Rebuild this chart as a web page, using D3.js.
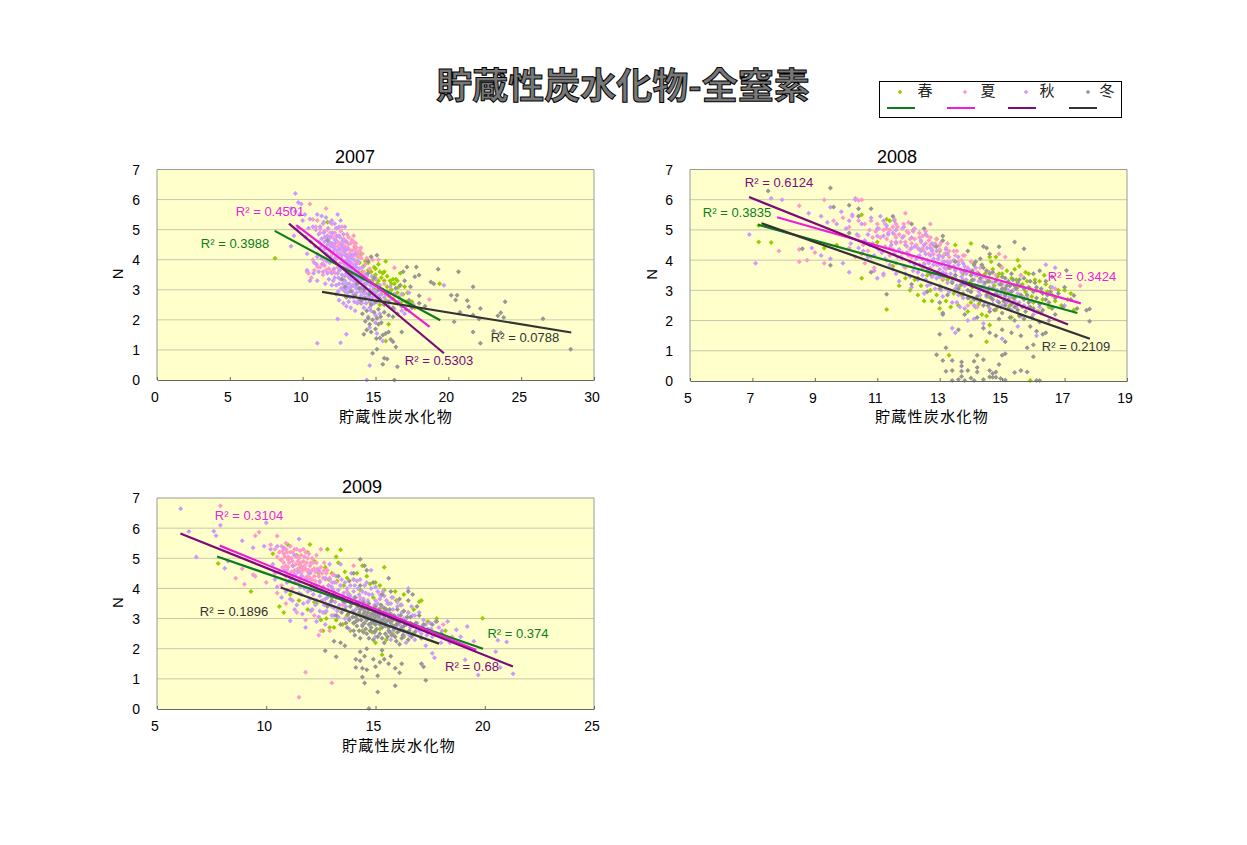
<!DOCTYPE html>
<html><head><meta charset="utf-8">
<script src="https://cdn.jsdelivr.net/npm/d3@7/dist/d3.min.js"></script>
<style>html,body{margin:0;padding:0;background:#fff}svg{display:block}text{font-family:"Liberation Sans",Arial,sans-serif}.cjk{font-family:"Noto Sans CJK JP",sans-serif}</style>
</head><body><div id="c"></div>
<script>
const seasons=["春","夏","秋","冬"];
const years=["2007","2008","2009"];
const xTitle="貯蔵性炭水化物", yTitle="N", mainTitle="貯蔵性炭水化物-全窒素";
const xDomains=[[0,30],[5,19],[5,25]];
const xTicks=[[0,5,10,15,20,25,30],[5,7,9,11,13,15,17,19],[5,10,15,20,25]];
const yTicks=[0,1,2,3,4,5,6,7];
const r2Labels=[["0.3988","0.4501","0.5303","0.0788"],["0.3835","0.3424","0.6124","0.2109"],["0.374","0.3104","0.68","0.1896"]];
const trend07=[[[8.08,4.96],[19.45,1.99]],[[9.56,5.15],[18.72,1.77]],[[9.06,5.2],[19.7,0.89]],[[11.33,2.93],[28.44,1.58]]];
const trend08=[[[7.18,5.17],[17.41,2.25]],[[7.79,5.42],[17.52,2.57]],[[6.89,6.09],[17.11,1.87]],[[7.29,5.22],[17.81,1.4]]];
const trend09=[[[7.75,5.06],[19.92,2.0]],[[7.87,5.42],[19.61,1.96]],[[6.07,5.82],[21.29,1.41]],[[10.66,4.03],[17.91,2.17]]];

const spring07=[[8.1,4.05],[11.7,5.25],[13.6,4.4],[13.8,4.1],[13.9,3.9],[14,4.2],[14.1,3.6],[14.2,3.8],[14.4,3.5],[14.5,3.9],[14.6,3.3],[14.7,3.6],[14.8,3.3],[14.9,3.75],[15,3.5],[15.1,3.2],[15.2,3.85],[15.3,3.6],[15.4,3.4],[15.5,3.0],[15.6,3.3],[15.7,3.95],[15.8,3.1],[15.9,2.8],[16,3.3],[16.1,3.0],[16.2,2.7],[16.3,3.2],[16.4,3.35],[16.5,2.9],[16.6,3.1],[16.7,3.55],[16.8,2.6],[17,3.1],[17.2,2.9],[17.3,2.5],[17.5,2.6],[17.7,2.4],[19.4,3.2],[14,2.55],[14.6,2.6],[15,2.9],[15.3,2.5],[15.9,1.85],[15.7,1.3],[12.9,2.95],[13.2,3.4],[14.3,3.2],[14.9,3.05],[15.2,3.3],[15.6,3.6],[15.7,2.65],[16,2.95],[16.1,3.2],[16.3,2.85],[16.4,2.6],[16.6,2.75],[16.2,3.35],[15.5,3.55],[15,3.7],[14.5,3.65],[14.3,3.95],[14.8,3.15],[15.4,2.85],[16.9,2.85],[17.1,2.6],[13.9,3.45],[14.2,2.9],[15.8,3.45],[16.5,3.3]];
const summer07=[[10.5,5.85],[11.6,5.7],[10.7,5.34],[11,5.3],[10.9,5.1],[11.4,5.2],[11.2,4.9],[11.5,4.95],[11.7,5],[12,5.2],[12.2,4.9],[11.8,4.7],[12.3,4.65],[12.5,4.8],[12.6,4.55],[12.1,4.5],[12.8,4.7],[12.9,4.45],[13,4.6],[13.1,4.4],[13.3,4.55],[12.7,4.3],[13.2,4.2],[13.5,4.6],[13.4,4.3],[13.6,4.15],[13.7,4.4],[13,4.1],[12.4,4.2],[12.2,4.35],[11.9,4.3],[11.6,4.4],[11.3,4.5],[11,4.2],[10.7,4],[10.8,3.65],[11.2,3.75],[11.5,3.8],[11.8,3.7],[12.1,3.65],[12.4,3.75],[12.6,3.9],[12.9,3.85],[13.2,3.9],[13.5,3.85],[13.8,3.9],[14.1,4.2],[14.4,4.05],[14.8,4],[15.2,4],[13.8,3.6],[14.2,3.6],[10.3,3.6],[10.4,3.55],[10.6,3.4],[11.4,3.5],[16.3,3.73],[18.7,2.68],[13.5,4.8],[12.7,5.1],[12.4,5.05],[13.15,4.75],[12.85,4.25],[12.55,4.4],[13.35,4.05],[13.65,4.55],[11.9,4.9],[12.15,4.7],[11.7,4.15],[11.45,4],[12,3.95],[12.3,4],[13.05,4.85],[13.75,4.2],[14,4.4],[14.6,3.7],[15,3.4],[13.55,4.35],[12.75,4.55],[14.3,3.85],[15.6,3.2],[16,2.9],
[11.2,5.02],[11.5,4.75],[11.82,4.55],[12.02,4.8],[12.17,4.45],[12.33,4.77],[12.45,4.57],[12.62,4.95],[12.66,4.42],[12.82,4.35],[12.92,4.62],[12.96,4.17],[13.06,4.35],[13.16,4.52],[13.22,4.06],[13.31,4.31],[13.36,4.66],[13.46,4.16],[13.56,4.46],[13.62,3.97],[13.71,4.26],[13.82,4.11],[13.91,4.31],[14.02,4.06],[12.52,3.66],[12.22,3.56],[11.92,3.61],[11.62,3.66],[11.32,3.86],[11.02,3.76],[12.75,3.75],[13.05,3.75],[13.35,3.75],[12.4,4.45],[12.05,4.2]];
const autumn07=[[9.5,6.2],[9.7,5.9],[9.9,5.85],[9.2,5.7],[9.5,5.6],[9.8,5.5],[10,5.3],[9.7,5.05],[9.4,4.8],[9.2,4.45],[10.2,4.75],[10.3,4.2],[10.7,5.1],[10.5,5.35],[11,5.5],[11.2,5.1],[11.6,5.4],[12,5.3],[12.4,5.5],[12.6,5.3],[12.9,5.1],[12.8,4.85],[12.3,5.05],[11.1,4.85],[11.3,4.7],[11.5,4.6],[11.7,4.5],[11.9,4.75],[12.2,4.55],[12.5,4.35],[12.7,4.15],[12.9,4.3],[13.1,4.1],[13.3,3.9],[13.5,4],[13.7,3.75],[13.1,3.75],[12.8,3.9],[12.5,3.85],[12.2,4.05],[11.9,4.1],[11.6,4.2],[11.2,4.4],[11,4.1],[10.8,3.9],[11.1,3.6],[11.4,3.85],[11.7,3.55],[10.3,3.65],[10.5,3.3],[11,3.3],[11.8,3.35],[12,3.15],[12.2,3.4],[12.4,3.55],[12.5,3.2],[12.7,3.5],[12.8,3],[12.9,3.3],[13,3.55],[13.1,2.9],[13.2,3.2],[13.3,3.55],[13.4,2.95],[13.5,3.3],[13.6,3.6],[13.7,2.9],[13.8,3.2],[13.9,3.5],[14,2.8],[14.1,3.1],[14.2,3.35],[14.3,2.9],[14.4,3.2],[14.5,2.75],[14.6,3],[14.7,3.25],[14.8,2.75],[14.9,2.55],[15,2.9],[15.1,2.6],[15.2,2.8],[15.3,3.15],[15.5,2.6],[15.7,2.85],[15.9,2.45],[16.1,2.7],[16.3,2.35],[16.6,2.6],[16.8,2.3],[17,2.2],[17.3,2.9],[17.6,2.5],[12.3,2.85],[12.5,2.65],[12.8,2.55],[13,2.45],[13.3,2.4],[13.6,2.3],[12.4,2.03],[14.2,2.4],[14.5,2.1],[14.7,2.3],[15,2.15],[15.3,2.2],[15,1.9],[14.6,1.75],[15.1,1.55],[15.5,1.3],[11,1.22],[12.6,1.24],[13,1.52],[14.6,0.48],[14.4,0],[19.7,3.15],[13.15,3.45],[13.45,3.75],[13.75,3.4],[13.05,4],[13.25,3.65],[12.65,4.5],[12.35,4.8],[12.05,4.9],[11.75,5.05],[11.45,5.25],[11.1,4.6],[10.85,4.45],[10.55,4.6],[13.6,3.1],[13.95,2.95],[14.25,2.75],[14.65,2.6],[14.95,3.15],[15.4,2.95],[13.35,3.1],[12.95,3.1],[12.55,3.65],[12.15,3.7],[12,3.55],[11.85,3.9],[12.35,4.3],[12.75,4.65],[11.3,4.05],[13.55,2.6],[14.05,2.55],[13.85,2.65],
[11.55,4.75],[11.8,4.35],[12,4.55],[12.1,4.25],[12.25,3.9],[12.4,4.1],[12.6,3.75],[12.65,4.05],[12.85,3.7],[12.9,3.45],[13,3.85],[13.05,3.2],[13.15,3.6],[13.2,3.95],[13.3,3.35],[13.4,3.6],[13.45,3.15],[13.55,3.45],[13.65,3.85],[13.7,3.05],[13.75,3.55],[13.85,3.35],[13.9,3.7],[14,3.05],[14.05,3.4],[14.15,2.9],[14.2,3.2],[14.3,3.5],[14.35,3.05],[14.5,3.3],[14.55,2.9],[14.65,3.15],[14.75,2.9],[14.85,3.1],[15.05,2.75],[15.15,3],[15.25,2.65],[15.35,2.85],[15.6,2.75],[15.8,2.6],[12.1,3.3],[12.3,3.15],[12.45,2.95],[12.6,3.35],[12.75,3.2],[12.9,2.8],[13,3.05],[13.25,2.75],[13.45,2.75],[13.15,2.6],[11.5,4.35],[11.65,3.95],[11.4,3.6],[11.55,3.2],[10.95,3.85],[10.75,3.55],[12.5,5.1],[12.2,5.2],[11.9,5.25],[11.3,5.45],[10.9,5],[10.4,5.05],[10.15,5.5],[13.35,4.15],[13.1,4.35],[13.6,4.2],[13.8,3.95],[14.1,3.75],[14.4,3.45],[14.75,3.45],[15,3.35],[12.25,4.65],[12.55,4.75],[11.95,4.45],[11.7,4.8],[12.8,4.4],[13,4.6],[16,3.1],[16.35,2.85],[16.8,2.85],[17.3,2.3],
[12.85,3.95],[13.25,3.8],[13.4,3.45],[13.6,3.3],[13.8,3.05],[14,3.3],[14.25,3.05],[14.45,2.85],[14.6,2.75],[14.8,2.95],[12.45,3.4],[12.65,3.05],[12.95,2.95],[13.15,3.05],[13.5,2.85],[13.75,2.55],[14.1,2.65],[14.35,2.55],[14.6,2.4],[13.4,4.05],[12.95,4.15],[12.55,4.2],[12.15,4.4],[11.8,4.6],[11.45,4.9]];
const winter07=[[17.16,3.76],[17.8,3.76],[17.99,3.49],[17.7,3.43],[19.3,3.68],[20.7,3.6],[18.8,3.26],[19,3.2],[21.7,3.1],[20.2,2.82],[20.6,2.82],[20.5,2.66],[21.3,2.64],[21.4,2.44],[22.2,2.38],[23.9,2.6],[23.6,2.24],[23.4,2.14],[23.8,2.08],[20.8,2.25],[20.4,1.94],[21.7,2.16],[22.1,2.03],[26.5,2.04],[21.7,1.6],[22.2,1.22],[23.1,1.63],[23.6,1.57],[28.4,1.02],[16.3,0],[16.5,0.44],[15.5,0.52],[15.6,0.72],[15.8,0.7],[14.8,0.89],[15.1,1.02],[16.4,1.1],[16.2,1.27],[16.05,1.35],[15.06,1.38],[15.3,1.4],[15.5,1.5],[15.7,1.55],[15.9,1.6],[14.2,1.52],[14.4,1.66],[14.7,1.6],[15,1.7],[14.6,1.85],[14.3,1.95],[15.2,1.85],[15.4,1.9],[14.5,2.05],[14.8,2.0],[15.1,2.05],[15.35,2.1],[14.1,2.2],[14.4,2.3],[14.7,2.5],[14.9,2.25],[15.2,2.35],[15.6,2.25],[15.9,2.15],[16.2,2.1],[16.5,2.2],[16.8,1.6],[14,2.65],[13.6,2.8],[13.3,2.95],[12.9,3.1],[12.7,3.35],[13,2.75],[14.3,2.7],[14.6,2.85],[15,2.6],[15.3,2.7],[15.6,2.5],[15.9,2.6],[16.2,2.4],[16.5,2.55],[16.8,2.45],[17.1,2.35],[17.5,2.4],[18,2.55],[18.4,2.45],[18,2.8],[17.3,2.65],[17,3.3],[16.7,3.15],[17.4,3.1],[16.4,3.05],[15.8,2.9],[15.2,3],[14.9,3.4],[14.5,3.55],[14.1,3.4],[13.7,3.2],[14.2,3],[13.9,3.05],[14.5,3.95],[15.1,4.15],[14.7,4.1],[11.7,4.65],[16.9,3.6],[13.3,3.5]];

const spring08=[[7.2,5.15],[7.2,4.6],[7.6,4.58],[9.3,4.4],[9.7,4.5],[11.3,2.37],[10.5,3.4],[11.3,5.35],[11.4,5.3],[10.5,5.5],[11,4.6],[11.5,3.8],[11.7,3.15],[11.9,3.4],[12.2,3.35],[12.3,2.85],[12.5,2.65],[12.7,3],[12.9,2.85],[13,2.4],[13.2,2.65],[13.3,3],[13.4,3.4],[13.5,3.7],[13.6,2.5],[13.7,2.85],[13.8,3.2],[13.9,2.3],[14,4.55],[14.1,3.9],[14.2,3.5],[14.3,2.7],[14.4,3],[14.5,2.15],[14.6,3.3],[14.7,3.7],[14.8,4.1],[14.9,3.55],[15,3.2],[15.1,2.6],[15.2,2.95],[15.3,3.4],[15.4,3.7],[15.5,3.1],[15.6,3.5],[15.7,2.75],[15.8,3.3],[15.9,3.05],[16,2.6],[16.1,3],[16.2,3.3],[16.3,2.7],[16.4,3.2],[16.5,2.45],[16.6,2.85],[16.8,3],[16.9,2.5],[17.1,2.7],[17.3,2.35],[14.6,1.85],[14.5,1.3],[13.3,0.85],[15.3,2.1],[15.9,0.02],[13,4.3],[12.9,4.7],[12.8,4.5],[13.2,4.2],[13.5,4.5],[14,3.3],[14.6,4.1],[15.5,4],[15,3.55],[14.8,2.35],[14.25,2.55],[15.25,2.5],[15.75,3.6],[16.15,2.3],[13.1,3.35],[12.6,3.5],
[13.05,3.1],[13.25,3.35],[13.45,2.9],[13.65,3.15],[13.75,3.55],[13.95,2.75],[14.05,3.1],[14.15,2.45],[14.3,3.3],[14.45,3.55],[14.55,2.8],[14.65,3.95],[14.75,3.15],[14.85,3.45],[14.95,3.8],[15.05,2.95],[15.15,3.65],[15.25,3.15],[15.35,2.75],[15.45,3.35],[15.55,3.8],[15.65,3.2],[15.75,2.95],[15.85,3.55],[15.95,2.8],[16.05,3.35],[16.25,2.95],[16.35,3.5],[16.45,2.95],[16.55,3.1],[16.7,2.65],[17,3],[17.2,2.9],[12.4,3.15],[12.05,3],[12.75,2.65],[13.35,2.45],[14,2.6],[14.35,2.2],[14.95,2.45]];
const summer08=[[8.5,5.8],[9.3,6],[10.3,6.05],[10.4,5.98],[10.5,6],[11.9,5.55],[12.7,5.2],[7.85,4.3],[8.5,3.95],[8.75,4],[9,4.25],[9.3,3.9],[8.5,4.35],[9.6,5.3],[9.9,5.4],[10.1,5.1],[10.2,5.45],[10.4,5.3],[10.6,5.2],[10.8,5.3],[11,5.2],[11.2,5],[11.3,4.7],[11.4,5],[11.5,5.1],[11.6,4.75],[11.7,4.85],[11.8,5.05],[11.9,4.6],[12,4.9],[12.1,4.55],[12.2,4.7],[12.3,4.4],[12.4,4.6],[12.5,4.3],[12.6,4.8],[12.7,4.5],[12.8,4.2],[12.9,4.7],[13,4.35],[13.1,3.95],[13.2,4.4],[13.3,4.1],[13.5,4.15],[13.7,4],[13.9,3.75],[14.2,3.6],[14.5,3.4],[14.8,3.5],[15,3.2],[15.1,4.1],[14.9,4.2],[14.4,3.1],[13.9,2.5],[14.2,2.45],[10.1,4.4],[10.3,4.1],[10.6,3.9],[10.7,4.3],[10.9,3.75],[11,4.45],[11.2,3.5],[11.4,4.15],[11.6,3.9],[11.8,4.25],[11.9,3.75],[12.1,4.1],[12.3,3.6],[12.5,3.9],[12.8,3.5],[13.1,3.4],[11.6,4.55],[12,5.25],[12.35,4.9],[12.65,4.2],[11.25,4.45],[11.55,5.35],[10.85,4.75],[15.6,3.5],[17.5,3.15],[16.7,3.05],[12.05,4.35],[11.95,4.95],[12.55,4.55],
[10.95,4.95],[11.1,4.75],[11.25,5.2],[11.35,4.9],[11.45,4.6],[11.55,4.85],[11.65,5.1],[11.75,4.6],[11.85,4.8],[11.95,4.45],[12.05,4.7],[12.15,4.95],[12.25,4.5],[12.35,4.75],[12.45,4.4],[12.55,4.95],[12.65,4.65],[12.75,4.35],[12.85,4.55],[12.95,4.15],[13.05,4.6],[13.15,4.2],[13.25,4.55],[13.35,3.95],[13.45,4.3],[13.6,3.95],[13.8,4.15],[10.4,4.8],[10.55,4.5],[10.75,5],[11.15,4.25],[11.5,4.35],[11.75,4.1],[12,4.15],[12.2,3.9],[12.45,3.75],[12.7,3.75],
[11.05,5.05],[11.3,5.05],[11.6,5.2],[11.85,5.2],[12.2,5.05],[12.45,4.8],[12.7,4.75],[13,4.5],[13.3,4.3],[13.55,4.3],[13.75,4.15],[14,3.95],[14.3,3.75],[14.6,3.6],[15,3.75],[13.2,3.7],[12.9,3.85],[10.8,4.1],[10.5,4.2]];
const autumn08=[[7.1,3.9],[6.9,4.85],[7.6,6.05],[7.95,6],[8.8,5.55],[9.2,5.45],[9.4,5.25],[9.5,5.75],[9.7,5.2],[9.85,5.6],[10,5.05],[10.1,5.3],[10.3,6],[10.2,5.5],[10.5,5.2],[10.7,4.85],[10.8,5.4],[11,5.05],[11.1,5.45],[11.2,4.8],[11.3,5.15],[11.5,4.9],[11.6,4.6],[11.7,4.35],[11.8,4.75],[11.9,4.5],[12,4.2],[12.1,4.75],[12.2,4.45],[12.3,4.1],[12.4,4.65],[12.5,3.85],[12.6,4.4],[12.7,4.15],[12.8,3.85],[12.9,4.3],[13,3.7],[13.1,4.1],[13.2,3.55],[13.3,3.9],[13.4,3.3],[13.5,3.65],[13.6,4.1],[13.7,3.45],[13.8,3.15],[13.9,3.7],[14,2.95],[14.1,3.35],[14.2,2.7],[14.3,3.05],[14.4,3.45],[14.5,2.8],[14.6,3.1],[14.7,2.55],[14.8,2.9],[14.9,3.2],[15,2.5],[15.1,2.8],[15.2,3],[15.3,2.35],[15.4,2.65],[15.5,2.9],[15.6,2.15],[15.7,2.5],[15.8,2.75],[16,2.2],[16.2,2.45],[16.4,3.85],[16.7,3.75],[16.6,3.1],[17,2.5],[8.9,4.4],[9.2,4.15],[9.5,4.05],[9.9,3.9],[10.1,3.6],[10.4,4.4],[10.7,4.1],[10.9,3.65],[11,3.4],[11.2,3.55],[11.3,4],[11.5,3.7],[11.7,3.3],[11.9,3.55],[12.1,3.1],[12.3,3.35],[12.5,2.9],[12.7,3.2],[12.9,3.4],[13.1,2.8],[13.2,3.05],[13.4,2.6],[13.6,2.85],[13.8,2.4],[13.4,1.75],[13.5,1.6],[13.9,2],[14.1,2.05],[14.4,1.9],[15,1.4],[15.5,1.8],[16.1,1.5],[11.4,4.4],[11.8,4.05],[12.2,3.85],[12.6,3.65],[13,3.45],[12.4,4.3],[12.75,4.55],[13.25,4.2],[12.05,3.95],[13.75,3.9],[14.15,3.75],[12.45,3.5],[12.85,3.05],[13.55,3.15],[11.55,4.2],[11.15,4.25],[10.75,4.5],[12.15,5],[11.85,5.1],[12.55,4.85],
[11.45,4.5],[11.65,4.1],[11.95,4.25],[12.1,4.4],[12.25,4.05],[12.35,4.35],[12.45,4.05],[12.55,4.2],[12.65,3.9],[12.75,4.3],[12.85,3.6],[12.95,4.05],[13.05,3.85],[13.15,3.75],[13.25,3.95],[13.35,3.55],[13.45,3.8],[13.5,3.4],[13.65,3.7],[13.75,3.35],[13.85,3.55],[13.95,3.2],[14.05,3.55],[14.2,3.15],[14.35,3.3],[14.45,3.05],[14.55,3.3],[14.65,2.85],[14.75,3.05],[14.85,2.65],[14.95,2.85],[15.05,3.05],[15.15,2.6],[15.25,2.8],[15.35,3],[15.45,2.45],[15.55,2.6],[15.65,2.8],[15.85,2.45],[15.95,2.65],[16.1,2.3],[11.05,4.35],[10.9,4.15],[10.6,4.65],[10.35,4.85],[10.15,4.55],[11.35,4.85],[11.6,5],[12.3,3.6],[12.55,3.35],[12.75,3.45],[13,3.15],[13.3,2.95],[13.55,2.6],[13.75,2.75],[14.05,2.75],[14.25,2.95],[14.45,2.6],
[12.35,4.15],[12.5,4.5],[12.6,4],[12.7,4.4],[12.8,4.05],[12.85,4.45],[12.95,3.85],[13,4.15],[13.1,3.6],[13.15,3.95],[13.2,4.35],[13.35,3.75],[13.45,4],[13.5,3.5],[13.6,3.85],[13.7,3.6],[13.8,3.8],[13.85,3.35],[14,3.65],[14,3.2],[14.15,3.5],[14.25,3.3],[14.3,2.85],[14.4,3.15],[14.55,2.95],[14.7,3.25],[14.85,3],[15,3],[10.55,4.3],[10.85,4.55],[11,4.8],[11.25,4.05],[11.4,3.85],[11.6,3.55],[11.85,3.8],[12.05,3.45],[12.15,3.65],[12.35,3.85],[12.6,3.15],[12.95,3.6],[13.25,3.25],[13.05,3],[13.5,3.05],[13.65,2.45],[14.1,2.5],[14.6,2.4],[11.2,5.3],[11.55,5.3]];
const winter08=[[9.5,6.39],[7.5,6.29],[9.6,5.76],[10.1,5.82],[10.8,5.7],[10.4,5.7],[8.6,4.38],[9.5,3.83],[11.3,2.87],[15.4,4.6],[15.7,4.38],[14.9,4.44],[17.06,3.66],[17.3,2.83],[17.8,2.38],[17.7,2.34],[17.8,1.98],[10.4,5.45],[10.1,4.9],[10.8,3.6],[11.5,5.45],[12.1,5.2],[12.5,5.05],[13.1,4.8],[13.1,4.65],[12.9,4.45],[14.4,4.45],[14.5,4.4],[14.3,4.05],[14.6,4.2],[14.1,3.85],[14.4,3.75],[14.7,3.6],[14.9,3.85],[15.1,3.4],[15.3,3.55],[15.5,3.25],[15.7,3.4],[16,3.55],[16.2,3.65],[16.4,3.3],[16.6,3.45],[16.8,2.9],[17,3.1],[17.2,2.7],[17.4,2.4],[13.5,3.5],[13.7,3.2],[13.9,3.0],[14.1,2.7],[14.3,3.1],[14.5,2.85],[14.7,3.05],[14.9,2.6],[15.1,2.85],[15.3,2.95],[15.5,2.55],[15.7,2.7],[15.9,2.45],[16.1,2.75],[16.3,2.35],[16.5,2.6],[16.7,2.2],[13.1,2.2],[13.1,2.25],[13,1.55],[13.2,1.1],[13.6,1.7],[13.8,2.2],[14,1.5],[14.2,2.1],[14.4,1.75],[14.6,2.3],[14.6,1.6],[14.8,1.5],[14.9,2.05],[15,1.7],[15.1,1.3],[15.3,1.6],[15.4,2.0],[15.6,1.5],[15.7,2.05],[15.9,1.8],[16,1.2],[16.1,1.65],[16.3,1.55],[16.4,1.6],[16.5,2.0],[15.8,1.1],[15.1,0.9],[15,0.85],[14.2,0.85],[14.4,0.7],[14.1,0.65],[16,0.8],[12.9,0.87],[13.1,0.68],[13.4,0.68],[13.7,0.63],[13.2,0.32],[13.4,0.35],[13.7,0.5],[13.7,0.32],[13.9,0.35],[14.2,0.3],[14.2,0.45],[14.6,0.35],[14.7,0.25],[14.9,0.55],[14.8,0.3],[15.4,0.28],[15.6,0.35],[15.8,0.3],[13.4,0.02],[13.6,0.05],[13.7,0.15],[13.8,0.02],[14,0.1],[14.1,0.02],[14.4,0.05],[14.6,0.13],[14.7,0.12],[14.8,0.12],[14.95,0.08],[15.1,0.03],[16.1,0.02],[16.2,0.02],[12.3,3.4],[12.1,3.2],[12.6,2.95],[13.3,3.75],[13.5,3.95],[13.9,4.3],[12.7,3.55],[13,3.05],[14.05,3.35],[14.55,3.3],[15.25,3.15],[15.85,3.1],[16.55,2.95],[16.95,2.45],[15.75,2.3],[15.2,2.4],
[14.25,3.55],[14.35,3.85],[14.45,3.25],[14.6,3.55],[14.65,2.75],[14.8,3.3],[14.85,2.85],[15,3.45],[15,3.05],[15.15,3.15],[15.2,2.7],[15.35,3.35],[15.4,2.75],[15.45,3.05],[15.6,2.85],[15.6,3.15],[15.8,2.85],[15.9,3.3],[16,2.95],[16.1,3.1],[16.2,2.55],[16.3,2.9],[16.4,2.7],[16.6,2.4],[16.7,2.75],[14.15,3.15],[14.2,2.8],[14,3.5],[13.8,3.65],[13.75,2.9],[13.6,3.05],[14.4,2.5],[14.75,2.35],[15,2.25],[15.25,2.1],[15.55,2.15],[15.95,2.1],[16.2,1.95],[14.7,2.7],[15.05,2.65],[15.3,2.55],[15.5,2.35],[15.85,2.6],
[14.05,3.65],[14.15,3.95],[14.3,3.4],[14.5,3.65],[14.55,3.05],[14.75,2.85],[14.95,3.2],[15.1,3.05],[15.2,3.3],[15.4,3.15],[15.55,3.35],[15.7,3.05],[16.05,3.25],[16.25,3.05],[16.45,2.85],[13.9,2.75],[14,2.95],[14.3,2.65],[14.55,2.5],[14.85,2.45],[15.1,2.5],[15.4,2.45],[15.65,2.45],[16,2.4],[16.25,2.25],[13.4,3.25],[13.25,2.85],[13,2.6]];

const spring09=[[7.8,4.83],[9.3,3.9],[10.6,3.4],[10.8,3.2],[13.4,5.28],[12,5.46],[11,5.44],[15.4,4.7],[15.3,1.8],[17,3.56],[17.1,3.6],[19.9,3.01],[12.8,5.3],[13.2,5.05],[13.3,4.85],[10.3,5.15],[11.6,4.7],[12.2,4.9],[12.4,4.5],[12.7,4.7],[13,4.5],[13.6,4.55],[14,4.3],[14.4,4.75],[14.6,4.4],[15,4.2],[15.4,3.95],[15.9,3.9],[16.3,3.8],[11.1,3.8],[11.5,3.6],[11.9,3.3],[12.3,3.5],[12.5,2.95],[12.7,3.2],[12.9,2.7],[13,3.7],[13.3,3.3],[13.5,2.8],[13.7,3.1],[14,2.85],[14.2,3.5],[14.4,2.6],[14.6,3.05],[14.9,3.7],[15,2.2],[15.2,2.65],[15.4,3.1],[15.6,3.5],[15.8,2.5],[16,2.9],[16.3,2.4],[16.5,3.2],[16.9,2.75],[17.4,2.9],[17.8,3],[18.2,2.6],[12.6,2.6],[13.1,2.7],[13.8,3.8],[14.7,3.3],[15.5,2.3],[16.7,2.5],[11.4,5.1],[11.9,5.2],[14.3,3.95],[13.55,4.1],[12.05,4.1],[15.25,3.35],[16.15,3.45],[14.85,2.55],
[12.85,4.3],[13.25,4.25],[13.7,4.35],[14.15,4.5],[14.75,4.15],[15.2,4.1],[12.2,3.55],[12.75,3],[13.2,2.95],[13.85,2.6],[15.95,3.6],[16.75,3.3]];
const summer09=[[7.9,6.74],[9.67,5.86],[9.5,5.75],[10.5,5.74],[10.9,5.5],[11.5,0.39],[11.8,1.22],[13,0.86],[8.6,4.34],[9,4.14],[8.9,4.65],[9.4,4.45],[9.5,4.4],[10,4.2],[10.2,5.45],[10.4,5.3],[10.5,5.05],[10.7,5.4],[10.8,5.15],[10.8,4.85],[10.9,5.3],[11,5.05],[11,4.7],[11.1,5.4],[11.2,4.9],[11.2,5.2],[11.3,4.6],[11.4,5.05],[11.4,5.3],[11.5,4.8],[11.6,5.1],[11.6,4.5],[11.7,4.9],[11.8,5.2],[11.8,4.65],[11.9,4.4],[11.9,5],[12,4.75],[12,4.5],[12.1,5],[12.1,4.3],[12.2,4.65],[12.3,4.85],[12.3,4.1],[12.4,4.4],[12.5,4.7],[12.5,5.3],[12.7,4.3],[12.8,4.6],[13,4.2],[13.1,4.45],[13.4,4.1],[13.7,3.9],[14,4.75],[14.3,3.7],[14.6,3.5],[15.2,3.8],[15.8,3.7],[10.5,3.85],[10.7,4.1],[10.9,3.5],[11.2,4],[11.4,3.2],[11.8,2.95],[12.2,3.1],[12.4,2.45],[12.5,2.6],[12.9,2.6],[12.7,3.5],[10.4,4.5],[10.9,4.4],[11.5,4.2],[14.5,3.2],[13.5,3.45],[11.65,4.7],[11.95,5.15],[12.25,4.55],[11.35,4.8],[11.05,4.45],[12.65,4.85],[18.1,2.8],[18.5,2.4],
[10.6,5.2],[10.65,4.95],[10.75,4.7],[10.85,5.05],[10.95,4.6],[11.05,4.85],[11.1,5.2],[11.15,4.55],[11.25,4.75],[11.3,5.1],[11.35,4.45],[11.45,4.65],[11.5,5],[11.55,4.35],[11.6,4.85],[11.7,4.6],[11.75,5.05],[11.8,4.35],[11.85,4.85],[11.95,4.6],[12.05,4.3],[12.1,4.6],[12.15,4.85],[12.25,4.25],[12.35,4.65],[12.45,4.2],[12.55,4.5],[12.6,4.05],[12.75,4.5],[12.85,4.1],[13.05,4.45],[11.55,5.25],[11.3,5.3],[11.7,5.3],[12.3,5.1],[12,4.35],[11.2,4.4],[10.95,5.2],[10.75,5.25],
[11.15,5],[11.25,4.55],[11.45,4.9],[11.55,4.6],[11.65,4.4],[11.75,4.75],[11.9,4.55],[12.05,4.85],[12.2,4.4],[12.4,4.55],[12.6,4.35],[12.65,4.6],[12.9,4.35],[13.2,4.2],[10.9,4.75],[10.7,4.95],[11,4.95]];
const autumn09=[[6.08,6.64],[6.46,5.89],[6.8,5.04],[7.6,5.9],[7.7,5.75],[7.9,6.1],[10,6.18],[8.9,5.58],[11.5,5.64],[8.1,4.67],[8.25,4.9],[19.7,1.13],[21.3,1.17],[19.2,2.74],[21,2.22],[20.6,2.28],[20.5,1.9],[18.7,2.63],[20.7,1.38],[19.1,1.63],[9.4,5.35],[9.9,5.4],[10.2,5.3],[10.5,5.4],[10.8,5.35],[11.3,5.1],[10.3,4.8],[10.4,4.3],[10.5,4.05],[10.7,3.7],[10.9,3.9],[11.1,4.3],[11.2,3.6],[11.3,3.3],[11.1,2.93],[11.5,3.85],[11.6,4.4],[11.7,3.5],[11.8,2.7],[11.9,3.9],[12,4.5],[12.1,3.3],[12.2,4.1],[12.3,3.6],[12.4,4.6],[12.5,3.9],[12.6,3.2],[12.7,4.35],[12.8,3.7],[12.9,4.8],[13,3.4],[13,4.05],[13.1,3.1],[13.2,4.4],[13.3,3.7],[13.4,4.8],[13.5,3.3],[13.6,4.2],[13.7,3.6],[13.8,3],[13.9,4.5],[14,3.9],[14.1,3.3],[14.2,4],[14.3,3.6],[14.5,4.1],[14.6,3.4],[14.7,3.8],[14.8,4.6],[14.9,3.1],[15,3.6],[15.1,3.9],[15.2,3],[15.3,3.4],[15.4,3.75],[15.5,2.8],[15.6,3.2],[15.7,3.5],[15.8,2.6],[15.9,3.05],[16,3.4],[16.1,2.8],[16.2,3.2],[16.3,2.45],[16.4,3],[16.5,4],[16.6,2.7],[16.7,3.1],[16.8,2.3],[16.9,2.85],[17,3.2],[17.1,2.5],[17.2,2.95],[17.3,2.1],[17.4,2.65],[17.5,2.85],[17.6,2.4],[17.7,1.7],[17.6,1.85],[17.9,2.7],[18,2.2],[18.1,2.45],[18.3,2.9],[18.4,2.2],[18.9,2.4],[19.5,2.25],[15,2.4],[15.7,2.3],[16.4,2.2],[14.4,2.8],[13.8,2.65],[12.3,2.9],[12.7,2.8],[11.65,3.15],[12.15,3.8],[12.45,3.25],[12.95,3.55],[13.25,3.25],[13.55,3.85],[13.85,4.1],[14.15,4.25],[14.45,3.65],[14.75,3.35],[15.05,3.25],[15.35,3.1],[15.65,2.95],[15.95,2.75],[16.25,2.6],[16.55,2.45],[11.85,4.3],[11.45,4.55],[11.2,4.75],[10.85,4.6],[12.45,4.25],[12.85,4.1],[13.15,3.85],[16.85,2.6],
[12,3.65],[12.25,3.45],[12.35,3.95],[12.55,3.6],[12.6,4.05],[12.75,3.85],[12.85,3.45],[13,3.75],[13.1,4.2],[13.15,3.55],[13.3,3.95],[13.35,3.45],[13.45,4.3],[13.5,3.7],[13.65,3.4],[13.75,3.8],[13.9,3.6],[13.95,3.25],[14.05,4.1],[14.15,3.55],[14.25,3.8],[14.4,3.4],[14.55,3.85],[14.65,3.6],[14.85,3.8],[14.95,3.45],[15.1,3.5],[15.25,3.75],[15.45,3.3],[15.55,3.5],[15.8,3.3],[16.05,3.1],[16.3,3],[16.65,3.4],[17,2.6],[17.3,2.8],[17.8,2.5],[11.3,4.2],[11.75,4],[12.05,3.95],[10.6,4.55],[10.95,4.2],[11.1,3.65],[11.4,3.45],[12.65,3.45],[13.1,3.35],
[12.2,3.95],[12.45,3.75],[12.7,3.65],[12.9,4.3],[13.05,3.95],[13.2,3.7],[13.4,4.1],[13.55,3.55],[13.7,4],[13.85,3.75],[14,4.3],[14.1,3.7],[14.3,4.3],[14.4,3.9],[14.6,4.2],[14.8,4],[15,4.05],[15.2,3.65],[15.35,3.9],[15.5,3.6],[15.75,3.7],[16,3.55],[16.2,3.45],[16.5,3.2],[16.8,3.1],[17.15,2.75],[17.35,2.45],[17.55,2.65],[17.75,2.9],[18.05,2.6],[11.6,3.8],[11.9,3.55],[12.05,3.25],[12.4,3.05],[12.75,3.25],[13,3.1],[13.3,3.05],[13.6,3],[11.3,4.45],[11.55,4.05]];
const winter09=[[14.7,0.02],[15.1,0.56],[15.9,0.77],[17.3,0.95],[14.5,0.86],[14.4,1.06],[15.1,1.1],[14.3,4.97],[15.6,4.34],[14.5,4.75],[12.7,1.93],[13.2,1.73],[14.1,1.38],[14.1,1.65],[14.3,1.6],[14.4,1.35],[14.6,1.3],[14.5,1.75],[14.3,1.9],[14.6,2],[14.9,1.65],[15,1.4],[15.2,1.55],[15.4,1.65],[15.3,1.95],[15.6,1.5],[15.7,1.75],[15.9,1.35],[16.1,1.2],[16.2,1.5],[17.1,1.5],[17.2,1.4],[13.1,2.25],[13.4,2.2],[13.6,2.1],[14,2.6],[14.3,2.35],[14.6,2.5],[14.9,2.3],[15,2.8],[15.2,2.5],[15.4,2.2],[15.6,2.7],[15.9,2.4],[16.1,2.15],[16.3,2.6],[16.5,2.3],[16.8,2.55],[17.1,2.35],[17.3,2.6],[17.6,2.8],[17.8,2.9],[18,2.5],[13.2,3.1],[13.4,2.8],[13.6,3.3],[13.8,2.95],[13.9,3.5],[14,3.2],[14.1,2.9],[14.2,3.4],[14.3,3.1],[14.4,2.75],[14.5,3.25],[14.6,2.95],[14.7,3.5],[14.8,2.7],[14.9,3.15],[15,3.4],[15.1,2.9],[15.2,3.15],[15.3,2.7],[15.4,3],[15.5,3.3],[15.6,2.95],[15.7,3.15],[15.8,2.75],[15.9,3],[16,3.3],[16.1,2.6],[16.2,2.95],[16.3,3.25],[16.4,2.8],[16.5,3.6],[16.6,3.05],[16.7,3.8],[16.9,3.4],[17,3.1],[17.2,2.8],[17.4,2.55],[14,4.5],[14.3,4.1],[14.6,4.6],[14.9,4.2],[15.3,3.8],[15.7,3.9],[16.1,3.65],[16.5,3.9],[13.8,4.25],[13.3,4.4],[13,3.6],[12.8,3.4],[14.05,3.7],[14.45,3.55],[14.75,3.05],[15.05,3.1],[15.35,2.85],[15.65,2.55],[14.2,2.95],[14.55,2.65],[14.85,2.95],[15.15,3.3],[14.25,3.2],[13.95,3.05],[14.65,3.2],[15.45,2.75],[15.75,2.95],[16.05,2.85],
[14.1,3.05],[14.15,2.75],[14.35,2.95],[14.4,3.35],[14.5,3.05],[14.5,2.85],[14.65,3.35],[14.7,2.8],[14.75,2.6],[14.85,3.3],[14.9,2.85],[15,2.95],[15,3.2],[15.05,2.65],[15.15,3.05],[15.2,2.8],[15.25,3.45],[15.3,2.95],[15.35,3.2],[15.45,3.15],[15.5,2.9],[15.55,3.1],[15.6,2.6],[15.7,2.85],[15.75,2.45],[15.85,3.1],[15.85,2.65],[16,2.95],[16,2.55],[16.15,3.1],[16.2,2.7],[16.25,2.45],[16.35,2.9],[16.45,3.05],[16.55,2.6],[16.7,2.8],[13.75,3.15],[13.65,2.85],[13.5,3.6],[13.85,3.4],[14.15,3.5],[14,2.85],[14.25,2.6],[14.95,2.55],[15.1,2.4],[15.45,2.5],
[14.3,3.3],[14.45,3.15],[14.6,3.1],[14.8,3.15],[14.8,2.85],[14.95,3.05],[15.1,3.2],[15.25,2.9],[15.4,2.85],[15.4,3.35],[15.65,3.3],[15.8,2.95],[15.95,2.8],[16.1,2.95],[16.3,2.75],[16.45,2.55],[16.6,2.85],[16.85,2.85],[13.6,3.55],[13.45,3.2],[13.7,2.7],[14.05,2.45],[14.45,2.55],[14.7,2.35],[15,2.6],[15.3,2.35],[15.55,2.4],[15.95,2.25],[16.2,2.35],[16.65,2.4]];

const seriesByYear=[[spring07,summer07,autumn07,winter07],[spring08,summer08,autumn08,winter08],[spring09,summer09,autumn09,winter09]];
const trendsByYear=[trend07,trend08,trend09];

// ---- layout & style ----
const pointColors=["#99cc00","#ff99cc","#cc99ff","#969696"];
const lineColors=["#0a7d1e","#f01cd8","#7d0a78","#333333"];
const labelColors=["#0a7d1e","#ee22dd","#7d0a78","#333333"];
const panels=[
 {l:157,r:594,t:169.5,b:380,titleX:355,titleY:157,xtX:396,xtY:417,nX:118,
  lab:[[235,244],[270,212],[439,361],[525,338]]},
 {l:690,r:1127,t:169.5,b:381,titleX:897,titleY:157,xtX:932,xtY:417,nX:652,
  lab:[[737,213],[1082,277],[779,183],[1076,347]]},
 {l:157,r:594,t:498,b:709,titleX:362,titleY:487,xtX:399,xtY:746,nX:118,
  lab:[[518,634],[249,516],[472,667],[234,612]]}
];
const svg=d3.select("#c").append("svg").attr("width",1247).attr("height",845);
const marker=d3.symbol().type(d3.symbolSquare).size(12.5);
const legendMarker=d3.symbol().type(d3.symbolSquare).size(10);
const fontLatin='"Liberation Sans",Arial,sans-serif';
panels.forEach((p,i)=>{
  const x=d3.scaleLinear().domain(xDomains[i]).range([p.l,p.r]);
  const y=d3.scaleLinear().domain([0,7]).range([p.b,p.t]);
  const g=svg.append("g");
  g.append("rect").attr("x",p.l).attr("y",p.t).attr("width",p.r-p.l).attr("height",p.b-p.t).attr("fill","#ffffcc");
  g.selectAll("line.grid").data(yTicks.slice(1,-1)).join("line").attr("class","grid")
    .attr("x1",p.l).attr("x2",p.r).attr("y1",d=>y(d)).attr("y2",d=>y(d)).attr("stroke","#c8c8a8").attr("stroke-width",1);
  seriesByYear[i].forEach((pts,s)=>{
    g.append("g").selectAll("path").data(pts).join("path").attr("d",marker)
      .attr("transform",d=>`translate(${x(d[0])},${y(d[1])}) rotate(45)`).attr("fill",pointColors[s]);
  });
  const line=d3.line().x(d=>x(d[0])).y(d=>y(d[1]));
  trendsByYear[i].forEach((t,s)=>{
    g.append("path").attr("d",line(t)).attr("fill","none").attr("stroke",lineColors[s]).attr("stroke-width",2.2);
  });
  g.append("path").attr("d",`M${p.l},${p.b}V${p.t}H${p.r}V${p.b}`).attr("fill","none").attr("stroke","#999").attr("stroke-width",1);
  const ax=g.append("g").attr("transform",`translate(0,${p.b})`)
    .call(d3.axisBottom(x).tickValues(xTicks[i]).tickSizeInner(-3).tickSizeOuter(0).tickPadding(12).tickFormat(d3.format("d")));
  ax.selectAll("path,line").attr("stroke","#666");
  ax.selectAll("text").attr("font-size",14).attr("fill","#000").attr("dx",-2.5).style("font-family",fontLatin);
  const ay=g.append("g").attr("transform",`translate(${p.l},0)`)
    .call(d3.axisLeft(y).tickValues(yTicks).tickSize(0).tickPadding(17).tickFormat(d3.format("d")));
  ay.select("path").remove();
  ay.selectAll("text").attr("font-size",14).attr("fill","#000").attr("dy","0.35em").style("font-family",fontLatin);
  g.append("text").attr("x",p.titleX).attr("y",p.titleY+6).attr("text-anchor","middle").attr("font-size",18).text(years[i]);
  g.append("text").attr("class","cjk").attr("x",p.xtX).attr("y",p.xtY+5).attr("text-anchor","middle").attr("font-size",15).attr("letter-spacing",1.3).text(xTitle);
  g.append("text").attr("transform",`translate(${p.nX},${(p.t+p.b)/2-1}) rotate(-90)`).attr("text-anchor","middle").attr("dy","0.35em").attr("font-size",15).text(yTitle);
  r2Labels[i].forEach((v,s)=>{
    g.append("text").attr("x",p.lab[s][0]).attr("y",p.lab[s][1]+4).attr("text-anchor","middle").attr("font-size",13).attr("fill",labelColors[s]).text("R² = "+v);
  });
});
svg.append("text").attr("class","cjk").attr("x",623).attr("y",99).attr("text-anchor","middle").attr("font-size",36).attr("font-weight",700)
  .attr("fill","#777").attr("stroke","#000").attr("stroke-width",1).text(mainTitle);
svg.append("rect").attr("x",879.5).attr("y",81.5).attr("width",242).attr("height",36).attr("fill","#fff").attr("stroke","#000");
const legendMarkerX=[900,965,1026,1088], legendTextX=[925,988,1047,1107], legendLineX=[887,947,1008,1069];
seasons.forEach((s,k)=>{
  svg.append("path").attr("d",legendMarker).attr("transform",`translate(${legendMarkerX[k]},92) rotate(45)`).attr("fill",pointColors[k]);
  svg.append("text").attr("class","cjk").attr("x",legendTextX[k]).attr("y",96).attr("text-anchor","middle").attr("font-size",15).attr("fill","#222").text(s);
  svg.append("line").attr("x1",legendLineX[k]).attr("x2",legendLineX[k]+28).attr("y1",108).attr("y2",108).attr("stroke",lineColors[k]).attr("stroke-width",2);
});
</script></body></html>
